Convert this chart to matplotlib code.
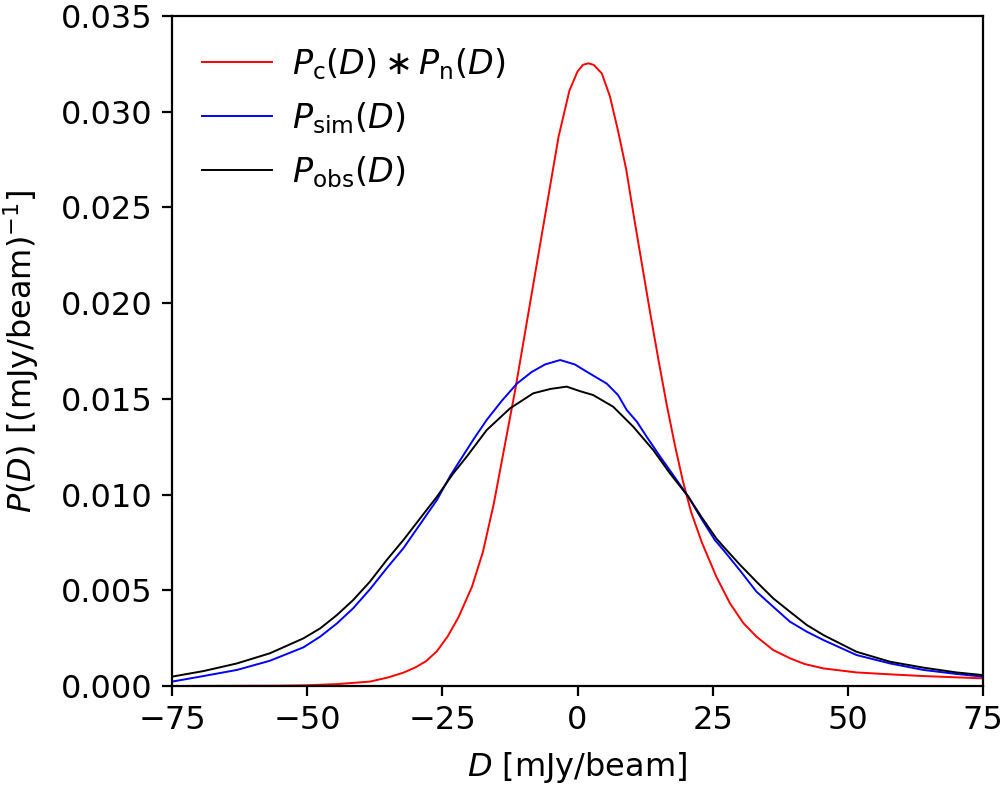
import matplotlib
matplotlib.use("Agg")
import matplotlib.pyplot as plt

plt.rcParams['font.size'] = 11.5
plt.rcParams['mathtext.fontset'] = 'dejavusans'

# P_c(D) * P_n(D)
d_conv = [-75, -55, -50, -44.5, -38.4, -35, -32.2, -30, -28, -26, -24, -22,
          -19.5, -17.5, -15.5, -13.5, -11.5, -9.5, -7.5, -5.5, -3.5, -1.5, 0.0,
          1.0, 2.0, 3.0, 4.5, 6.0, 7.5, 9.0, 10.5, 12, 13.5, 15, 16.5, 18, 19.5,
          21, 23, 25.7, 28.2, 30.7, 33.1, 36.2, 39.3, 42, 45.5, 51.6, 57.8, 64, 75]
p_conv = [0.0, 0.00002, 0.00004, 0.0001, 0.00023, 0.00045, 0.0007, 0.00097,
          0.0013, 0.00182, 0.0026, 0.0036, 0.0052, 0.0070, 0.0095, 0.0125,
          0.0155, 0.0188, 0.0221, 0.0254, 0.0287, 0.0311, 0.0321, 0.03245,
          0.03253, 0.03245, 0.0320, 0.0308, 0.0290, 0.0270, 0.0244, 0.0219,
          0.0194, 0.0170, 0.0147, 0.0126, 0.0107, 0.0091, 0.0075, 0.0057,
          0.00432, 0.00328, 0.00258, 0.00188, 0.00145, 0.00115, 0.00092,
          0.00071, 0.00061, 0.00052, 0.0004]

# simulated histogram
d_sim = [-75, -69.2, -63, -56.9, -50.7, -47.6, -44.5, -41.5, -38.4, -35.3, -32.2,
         -29, -26, -23.5, -21.7, -19.2, -16.8, -14, -11.2, -8.5, -6, -3.2, -0.5,
         1.7, 5.4, 7.5, 9.1, 11, 12.8, 15.3, 17.5, 20.5, 23, 25.4, 27, 30.1, 33.1,
         36.2, 39.3, 42.4, 45.5, 51.6, 57.8, 64, 70.1, 75]
p_sim = [0.00023, 0.00052, 0.00084, 0.00132, 0.00202, 0.00258, 0.00327, 0.00406,
         0.00505, 0.00615, 0.0072, 0.0085, 0.00972, 0.0110, 0.0118, 0.0129,
         0.0139, 0.0149, 0.0158, 0.0164, 0.0168, 0.01703, 0.0168, 0.01642,
         0.0158, 0.0152, 0.01442, 0.0138, 0.01302, 0.01198, 0.0111, 0.00989,
         0.0087, 0.00763, 0.0071, 0.00602, 0.00493, 0.00414, 0.00336, 0.00284,
         0.0024, 0.00162, 0.00118, 0.00084, 0.00063, 0.00049]

# observed histogram
d_obs = [-75, -69.2, -63, -56.9, -50.7, -47.6, -44.5, -41.5, -38.4, -35.3, -32.2,
         -29, -26, -23, -20.5, -16.8, -12.5, -8.2, -5, -2.0, 0.5, 2.9, 6.6, 10.3,
         14.0, 17.1, 20.5, 23, 25.7, 27, 30.1, 33.1, 36.2, 39.3, 42.4, 45.5, 51.6,
         57.8, 64, 70.1, 75]
p_obs = [0.00049, 0.00078, 0.00118, 0.00171, 0.00249, 0.00301, 0.00371, 0.00449,
         0.00545, 0.00658, 0.00763, 0.0088, 0.00989, 0.0111, 0.01198, 0.01337,
         0.0145, 0.01529, 0.01552, 0.01564, 0.0154, 0.0152, 0.01459, 0.01355,
         0.01233, 0.01111, 0.00989, 0.0088, 0.0077, 0.00728, 0.00632, 0.00545,
         0.00458, 0.00388, 0.00319, 0.00266, 0.00179, 0.00127, 0.00096, 0.00071,
         0.00057]

fig = plt.figure(figsize=(5.01, 3.93), dpi=200)
ax = fig.add_axes([0.1717, 0.1272, 0.8093, 0.8524])

ax.plot(d_conv, p_conv, color='red', lw=0.7, label=r'$P_{\rm c}(D) \ast P_{\rm n}(D)$')
ax.plot(d_sim, p_sim, color='blue', lw=0.7, label=r'$P_{\rm sim}(D)$')
ax.plot(d_obs, p_obs, color='black', lw=0.7, label=r'$P_{\rm obs}(D)$')

ax.set_xlim(-75, 75)
ax.set_ylim(0, 0.035)
ax.set_xticks([-75, -50, -25, 0, 25, 50, 75])
ax.set_xlabel(r'$D$ [mJy/beam]', labelpad=5)
ax.set_ylabel(r'$P(D)$ [(mJy/beam)$^{-1}$]', labelpad=7)
ax.legend(loc='upper left', frameon=False, fontsize=12, handlelength=2.1,
          handletextpad=0.6, labelspacing=0.55)

fig.savefig("out.png", dpi=200)
